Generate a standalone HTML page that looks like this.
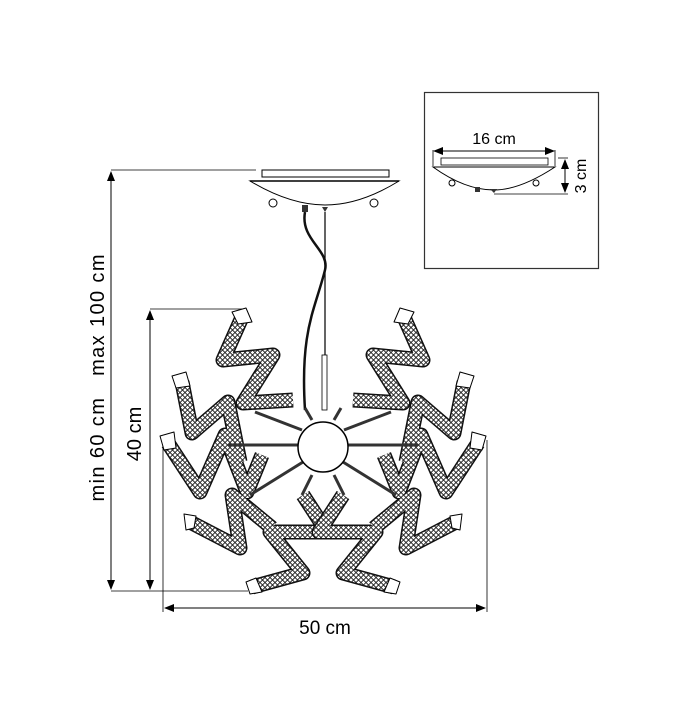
<!DOCTYPE html>
<html><head><style>html,body{margin:0;padding:0;background:#fff}svg{display:block}</style></head>
<body>
<svg width="684" height="720" viewBox="0 0 684 720" xmlns="http://www.w3.org/2000/svg" font-family="Liberation Sans, sans-serif">
<defs>
<pattern id="mesh" width="5" height="5" patternUnits="userSpaceOnUse">
<rect width="5" height="5" fill="#fff"/>
<path d="M0,2.5 L2.5,0 L5,2.5 L2.5,5z" fill="none" stroke="#222" stroke-width="0.9"/>
</pattern>
<marker id="ar" markerWidth="10" markerHeight="8" refX="9" refY="4" orient="auto-start-reverse" markerUnits="userSpaceOnUse">
<path d="M0,0 L10,4 L0,8z" fill="#000"/>
</marker>
</defs>

<!-- inset -->
<rect x="424.5" y="92.5" width="174" height="176" fill="none" stroke="#333" stroke-width="1.2"/>
<text x="494" y="144" font-size="16" text-anchor="middle">16 cm</text>
<line x1="434" y1="151" x2="554" y2="151" stroke="#000" marker-start="url(#ar)" marker-end="url(#ar)"/>
<line x1="433" y1="150" x2="433" y2="166" stroke="#000" stroke-width="0.8"/>
<line x1="555" y1="150" x2="555" y2="166" stroke="#000" stroke-width="0.8"/>
<rect x="441" y="158" width="107" height="7" fill="none" stroke="#000" stroke-width="0.8"/>
<path d="M433,167 L555,167 Q520,190 494,190 Q465,190 433,167z" fill="#fff" stroke="#000"/>
<circle cx="452" cy="183" r="3" fill="none" stroke="#000"/>
<circle cx="536" cy="183" r="3" fill="none" stroke="#000"/>
<rect x="475" y="187" width="5" height="5" fill="#333"/>
<path d="M490,189 L497,189 L494,193z" fill="#333"/>
<line x1="558" y1="158" x2="568" y2="158" stroke="#000" stroke-width="0.8"/>
<line x1="494" y1="194" x2="568" y2="194" stroke="#000" stroke-width="0.8"/>
<line x1="565" y1="160" x2="565" y2="192" stroke="#000" marker-start="url(#ar)" marker-end="url(#ar)"/>
<text transform="translate(586,176) rotate(-90)" font-size="16" text-anchor="middle">3 cm</text>

<!-- dimension lines -->
<line x1="111" y1="170" x2="256" y2="170" stroke="#000" stroke-width="0.8"/>
<line x1="111" y1="591" x2="248" y2="591" stroke="#000" stroke-width="0.8"/>
<line x1="111" y1="172" x2="111" y2="589" stroke="#000" marker-start="url(#ar)" marker-end="url(#ar)"/>
<line x1="150" y1="309" x2="242" y2="309" stroke="#000" stroke-width="0.8"/>
<line x1="150" y1="311" x2="150" y2="589" stroke="#000" marker-start="url(#ar)" marker-end="url(#ar)"/>
<text transform="translate(104,378) rotate(-90)" font-size="20" text-anchor="middle" textLength="247" xml:space="preserve">min 60 cm   max 100 cm</text>
<text transform="translate(141,434) rotate(-90)" font-size="20" text-anchor="middle">40 cm</text>
<line x1="163" y1="440" x2="163" y2="612" stroke="#000" stroke-width="0.8"/>
<line x1="487" y1="440" x2="487" y2="612" stroke="#000" stroke-width="0.8"/>
<line x1="165" y1="608" x2="485" y2="608" stroke="#000" marker-start="url(#ar)" marker-end="url(#ar)"/>
<text x="325" y="634" font-size="19" text-anchor="middle">50 cm</text>

<!-- canopy -->
<rect x="262" y="170" width="127" height="7" fill="#fff" stroke="#000"/>
<path d="M250,181 L399,181 Q360,205 325,205 Q290,205 250,181z" fill="#fff" stroke="#000"/>
<line x1="250" y1="181" x2="399" y2="181" stroke="#000" stroke-width="1.5"/>
<circle cx="273" cy="203" r="4" fill="#fff" stroke="#000"/>
<circle cx="374" cy="203" r="4" fill="#fff" stroke="#000"/>
<rect x="302" y="205" width="6" height="7" fill="#333"/>
<path d="M322,207 L328,207 L325,212z" fill="#333"/>
<!-- cables -->
<path d="M305,212 C300,240 330,250 325,270 C315,310 300,330 305,410" fill="none" stroke="#111" stroke-width="2.5"/>
<line x1="325" y1="212" x2="325" y2="405" stroke="#111" stroke-width="1.3"/>
<rect x="322" y="355" width="5" height="55" fill="#fff" stroke="#000" stroke-width="0.8"/>

<!-- arms -->
<g fill="none" stroke-linejoin="round">
<g id="half">
<g stroke="#111" stroke-width="15">
<polyline points="243,315 223,360 273,355 243,403 293,400"/>
<polyline points="182,382 192,433 228,402 240,462"/>
<polyline points="168,443 200,492 225,435 247,492 262,455"/>
<polyline points="190,522 240,548 232,495 272,528"/>
<polyline points="252,587 303,573 270,532 327,532 303,495"/>
</g>
<g stroke="url(#mesh)" stroke-width="12">
<polyline points="243,315 223,360 273,355 243,403 293,400"/>
<polyline points="182,382 192,433 228,402 240,462"/>
<polyline points="168,443 200,492 225,435 247,492 262,455"/>
<polyline points="190,522 240,548 232,495 272,528"/>
<polyline points="252,587 303,573 270,532 327,532 303,495"/>
</g>
<g fill="#fff" stroke="#000" stroke-width="1">
<path d="M232,312 L246,308 L252,322 L238,324z"/>
<path d="M172,376 L186,372 L190,386 L176,388z"/>
<path d="M160,436 L174,432 L176,448 L164,450z"/>
<path d="M184,514 L196,516 L194,528 L186,530z"/>
<path d="M246,582 L256,578 L262,592 L250,594z"/>
</g>
<g stroke="#333" stroke-width="3">
<line x1="300" y1="445" x2="228" y2="445"/>
<line x1="302" y1="430" x2="255" y2="412"/>
<line x1="303" y1="462" x2="250" y2="495"/>
<line x1="312" y1="475" x2="302" y2="495"/>
<line x1="312" y1="420" x2="305" y2="408"/>
</g>
</g>
<use href="#half" transform="translate(646,0) scale(-1,1)"/>
</g>
<circle cx="323" cy="447" r="25" fill="#fff" stroke="#000" stroke-width="1.5"/>
</svg>
</body></html>
